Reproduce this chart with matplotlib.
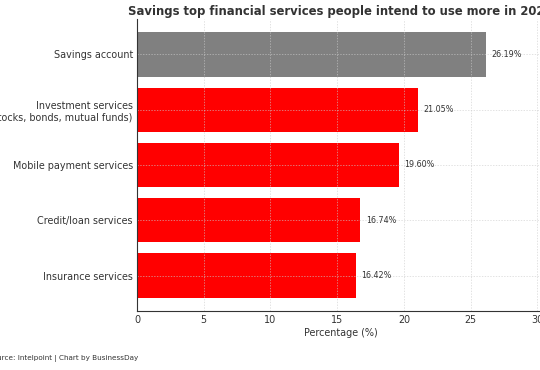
import matplotlib.pyplot as plt

# data
services = ['Savings account',
            'Investment services\n(stocks, bonds, mutual funds)',
            'Mobile payment services',
            'Credit/loan services',
            'Insurance services']
values = [26.19, 21.05, 19.60, 16.74, 16.42]
colors = ['grey', 'red', 'red', 'red', 'red']

fig = plt.figure(figsize=(5.4, 3.7), dpi=100)
# axes runs a bit past the right edge, like the cropped original
ax = fig.add_axes([137 / 540, 1 - 311 / 370, 407 / 540, 292 / 370])

ax.barh(services, values, color=colors, height=0.8)
ax.invert_yaxis()
ax.set_xlim(0, 30.5)
ax.set_xticks([0, 5, 10, 15, 20, 25, 30])

for i, v in enumerate(values):
    ax.text(v + 0.4, i, f'{v:.2f}%', va='center', fontsize=5.8, color='#333333')

ax.set_title('Savings top financial services people intend to use more in 2024',
             fontsize=8.4, fontweight='bold', color='#333333', pad=3)
ax.set_xlabel('Percentage (%)', fontsize=6.9, color='#333333', labelpad=2)
ax.tick_params(axis='both', labelsize=6.9, colors='#333333', length=0, pad=3)

ax.grid(True, linestyle=(0, (2, 2)), color='#cccccc', linewidth=0.5, alpha=0.8)
for s in ['top', 'right']:
    ax.spines[s].set_visible(False)
for s in ['left', 'bottom']:
    ax.spines[s].set_color('#333333')

fig.text(-12 / 540, 1 - 358 / 370, 'Source: Intelpoint | Chart by BusinessDay',
         fontsize=5.2, color='#333333', va='center')

fig.savefig('out.png', dpi=100)
